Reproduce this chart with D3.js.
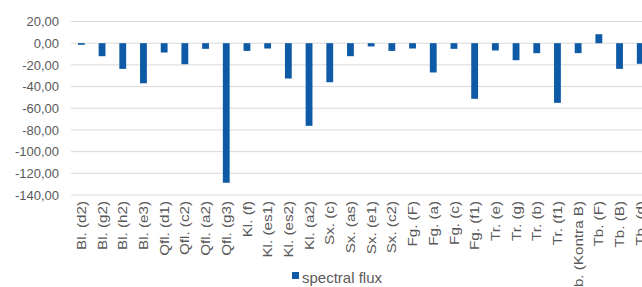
<!DOCTYPE html>
<html lang="en">
<head>
    <meta charset="UTF-8">
    <script src="https://cdn.jsdelivr.net/npm/d3@7"></script>
    <style>
        body{ margin:0; overflow:hidden; background:#fff; }
        .bar{ fill:#0e5aa7; }
        .tick text{ fill:#595959; font-family:"Liberation Sans", Arial, sans-serif; }
    </style>
    <title>spectral flux</title>
</head>
<body>
    <svg height="287" width="660"></svg>
    <script>
        // data
        var categories = ["Bl. (d2)","Bl. (g2)","Bl. (h2)","Bl. (e3)","Qfl. (d1)","Qfl. (c2)","Qfl. (a2)","Qfl. (g3)",
            "Kl. (f)","Kl. (es1)","Kl. (es2)","Kl. (a2)","Sx. (c)","Sx. (as)","Sx. (e1)","Sx. (c2)",
            "Fg. (F)","Fg. (a)","Fg. (c)","Fg. (f1)","Tr. (e)","Tr. (g)","Tr. (b)","Tr. (f1)",
            "Tb. (Kontra B)","Tb. (F)","Tb. (B)","Tb. (d)"];
        var flux = [-1.5,-12,-23.7,-37,-8.6,-19.4,-5.2,-128.7,
            -7.1,-4.9,-32.6,-76.2,-36,-12,-3,-7.1,
            -4.9,-27,-5.2,-51.3,-6.7,-15.7,-9.2,-55,
            -9.2,8.3,-23.7,-19];
        var yTicks = [20,0,-20,-40,-60,-80,-100,-120,-140];
        var seriesName = "spectral flux";

        var svg = d3.select("svg");
        // plot area edges ("top" is taken by window.top, so use other names)
        var plotLeft = 71, plotRight = 650.6, plotTop = 21.5, plotBottom = 195;

        var locale = d3.formatLocale({decimal:",", thousands:".", grouping:[3], currency:["","€"], minus:"-"});
        var fmt = locale.format(".2f");

        var xScale = d3.scaleBand().domain(categories).range([plotLeft,plotRight]);
        var yScale = d3.scaleLinear().domain([-140,20]).range([plotBottom,plotTop]);

        // gridlines
        svg.append("g").selectAll("line")
            .data(yTicks)
            .enter()
            .append("line")
            .attr("x1",plotLeft).attr("x2",plotRight)
            .attr("y1",function(d){return yScale(d)})
            .attr("y2",function(d){return yScale(d)})
            .attr("stroke","#d9d9d9").attr("stroke-width",1);

        // y axis labels
        var yAxis = svg.append("g")
            .attr("transform","translate("+(plotLeft-12)+",0)")
            .call(d3.axisLeft(yScale).tickValues(yTicks).tickFormat(fmt).tickSize(0).tickPadding(0));
        yAxis.select(".domain").remove();
        yAxis.selectAll("text").attr("font-size","13px");

        // bars
        var bw = xScale.bandwidth()*0.33;
        svg.selectAll(".bar")
            .data(flux)
            .enter()
            .append("rect")
            .attr("class","bar")
            .attr("x",function(d,i){return xScale(categories[i])+(xScale.bandwidth()-bw)/2})
            .attr("y",function(d){return yScale(Math.max(0,d))})
            .attr("width",bw)
            .attr("height",function(d){return Math.abs(yScale(d)-yScale(0))});

        // category labels, rotated (a bit stretched along the text like the source)
        svg.append("g").selectAll("text")
            .data(categories)
            .enter()
            .append("text")
            .attr("transform",function(d){
                return "translate("+(xScale(d)+xScale.bandwidth()/2)+",201) rotate(-90) scale(1.17,1)";
            })
            .attr("dy","0.35em")
            .attr("text-anchor","end")
            .attr("font-family","'Liberation Sans', Arial, sans-serif")
            .attr("font-size","13px")
            .attr("fill","#595959")
            .text(function(d){return d});

        // legend
        var legend = svg.append("g").attr("transform","translate(292,272)");
        legend.append("rect").attr("width",7).attr("height",7).attr("fill","#0e5aa7");
        legend.append("text")
            .attr("x",10).attr("y",11)
            .attr("font-family","'Liberation Sans', Arial, sans-serif")
            .attr("font-size","15px")
            .attr("fill","#595959")
            .text(seriesName);
    </script>
</body>
</html>
